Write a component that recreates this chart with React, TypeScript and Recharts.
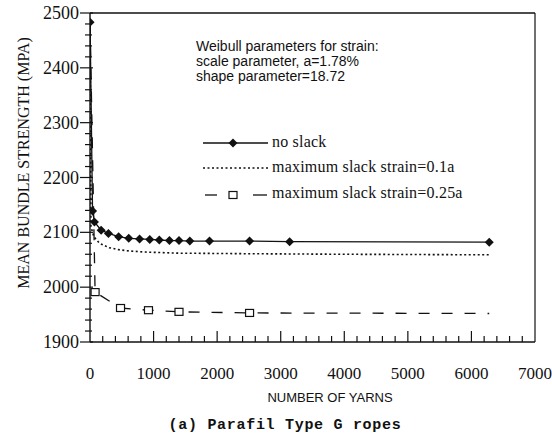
import { Legend, Line, LineChart, ReferenceLine, XAxis, YAxis } from 'recharts'

// number of yarns vs mean bundle strength (MPa)
const noSlackX = [1, 40, 70, 175, 290, 450, 610, 780, 940, 1090, 1250, 1400, 1570, 1880, 2510, 3140, 6280]
const noSlackY = [2483, 2139, 2119, 2104, 2098, 2092, 2089, 2088, 2087, 2086, 2085, 2085, 2084, 2084, 2084, 2083, 2082]

const slack01X = [1, 15, 60, 150, 300, 470, 620, 880, 1400, 2500, 4000, 6280]
const slack01Y = [2483, 2110, 2092, 2080, 2072, 2068, 2066, 2064, 2062, 2061, 2060, 2059]

const slack025X = [1, 80, 480, 920, 1400, 2510, 6280]
const slack025Y = [2483, 1991, 1962, 1958, 1955, 1953, 1952]
const slack025Marked = [80, 480, 920, 1400, 2510]

const xTicks = Array.from({ length: 36 }, (_, i) => i * 200)
const yTicks = Array.from({ length: 31 }, (_, i) => 1900 + i * 20)

const weibullLines = ['Weibull parameters for strain:', 'scale parameter, a=1.78%', 'shape parameter=18.72']

const noSlack = noSlackX.map((x, i) => ({ x, y: noSlackY[i] }))
const slack01 = slack01X.map((x, i) => ({ x, y: slack01Y[i] }))
const slack025 = slack025X.map((x, i) => ({ x, y: slack025Y[i] }))

const W = 552
const H = 443
const PLOT_LEFT = 90
const PLOT_TOP = 13
const PLOT_RIGHT = 535
const PLOT_BOTTOM = 342
const INK = '#111'
const SERIF = '"Liberation Serif", "Times New Roman", serif'
const SANS = '"Liberation Sans", Arial, sans-serif'

function diamondPath(cx: number, cy: number, r = 4.5) {
  return `M${cx},${cy - r}L${cx + r},${cy}L${cx},${cy + r}L${cx - r},${cy}Z`
}

function XTick({ x, payload }: any) {
  const v = payload.value
  const major = v % 1000 === 0
  return (
    <g>
      {v > 0 && v < 7000 && (
        <line x1={x} x2={x} y1={PLOT_BOTTOM} y2={PLOT_BOTTOM - (major ? 11 : 6)} stroke={INK} strokeWidth={1.2} />
      )}
      {major && (
        <text x={x} y={PLOT_BOTTOM + 37} textAnchor="middle" fontFamily={SERIF} fontSize={17} fill={INK}>
          {v}
        </text>
      )}
    </g>
  )
}

function YTick({ y, payload }: any) {
  const v = payload.value
  const major = v % 100 === 0
  return (
    <g>
      <line
        x1={PLOT_LEFT - (major ? 10 : 5)}
        x2={PLOT_LEFT + (major ? 3 : 2)}
        y1={y}
        y2={y}
        stroke={INK}
        strokeWidth={1.2}
      />
      {major && (
        <text x={79} y={y + 6} textAnchor="end" fontFamily={SERIF} fontSize={18} fill={INK}>
          {v}
        </text>
      )}
    </g>
  )
}

function Overlay() {
  return (
    <svg width={W} height={H} style={{ position: 'absolute', left: 0, top: 0 }}>
      {weibullLines.map((t, i) => (
        <text key={t} x={196} y={51 + i * 15} fontFamily={SANS} fontSize={14} fill={INK}>
          {t}
        </text>
      ))}
      <line x1={203} x2={268} y1={143} y2={143} stroke={INK} strokeWidth={1.3} />
      <path d={diamondPath(233, 143)} fill={INK} />
      <text x={272} y={147} fontFamily={SERIF} fontSize={16} letterSpacing={0.2} fill={INK}>no slack</text>
      <line x1={203} x2={268} y1={168} y2={168} stroke={INK} strokeWidth={1.6} strokeDasharray="2 2.5" />
      <text x={272} y={172} fontFamily={SERIF} fontSize={16} letterSpacing={0.2} fill={INK}>
        maximum slack strain=0.1a
      </text>
      <line x1={205} x2={217} y1={195} y2={195} stroke={INK} strokeWidth={1.3} />
      <rect x={229} y={191.5} width={8} height={7} fill="#fff" stroke={INK} strokeWidth={1.2} />
      <line x1={253} x2={267} y1={195} y2={195} stroke={INK} strokeWidth={1.3} />
      <text x={272} y={198} fontFamily={SERIF} fontSize={16} letterSpacing={0.2} fill={INK}>
        maximum slack strain=0.25a
      </text>
      <text
        x={23}
        y={163}
        transform="rotate(-90 23 163)"
        textAnchor="middle"
        dominantBaseline="central"
        fontFamily={SERIF}
        fontSize={16}
        fill={INK}
      >
        MEAN BUNDLE STRENGTH (MPA)
      </text>
      <text x={330} y={402} textAnchor="middle" fontFamily={SANS} fontSize={13} fill={INK}>
        NUMBER OF YARNS
      </text>
      <text
        x={285}
        y={429}
        textAnchor="middle"
        fontFamily='"Liberation Mono", "Courier New", monospace'
        fontWeight="bold"
        fontSize={15}
        letterSpacing={0.7}
        fill={INK}
      >
        (a) Parafil Type G ropes
      </text>
    </svg>
  )
}

export default function App() {
  return (
    <div style={{ position: 'absolute', left: 0, top: 0, width: W, height: H, background: '#fff' }}>
      <LineChart width={W} height={H} margin={{ top: PLOT_TOP, right: W - PLOT_RIGHT, bottom: 71, left: 0 }}>
        <XAxis
          type="number"
          dataKey="x"
          domain={[0, 7000]}
          ticks={xTicks}
          interval={0}
          tickLine={false}
          tick={<XTick />}
          height={30}
          stroke={INK}
          strokeWidth={1.4}
          allowDataOverflow
        />
        <YAxis
          type="number"
          dataKey="y"
          domain={[1900, 2500]}
          ticks={yTicks}
          interval={0}
          tickLine={false}
          tick={<YTick />}
          width={PLOT_LEFT}
          stroke={INK}
          strokeWidth={1.4}
          allowDataOverflow
        />
        <ReferenceLine y={2500} stroke={INK} strokeWidth={1.4} />
        <ReferenceLine x={7000} stroke={INK} strokeWidth={1.2} />
        <Line
          data={slack01}
          dataKey="y"
          stroke={INK}
          strokeWidth={1.6}
          strokeDasharray="2 2.5"
          dot={false}
          isAnimationActive={false}
        />
        <Line
          data={slack025}
          dataKey="y"
          stroke={INK}
          strokeWidth={1.3}
          strokeDasharray="11 12"
          dot={(p: any) =>
            slack025Marked.includes(p.payload.x) ? (
              <rect
                key={p.index}
                x={p.cx - 4}
                y={p.cy - 3.5}
                width={8}
                height={7}
                fill="#fff"
                stroke={INK}
                strokeWidth={1.2}
              />
            ) : (
              <g key={p.index} />
            )
          }
          isAnimationActive={false}
        />
        <Line
          data={noSlack}
          dataKey="y"
          stroke={INK}
          strokeWidth={1.3}
          dot={(p: any) => <path key={p.index} d={diamondPath(p.cx, p.cy)} fill={INK} />}
          isAnimationActive={false}
        />
        <Legend
          layout="vertical"
          align="center"
          verticalAlign="middle"
          wrapperStyle={{ position: 'absolute', left: 0, top: 0, width: W, height: H, pointerEvents: 'none' }}
          content={() => <Overlay />}
        />
      </LineChart>
    </div>
  )
}
